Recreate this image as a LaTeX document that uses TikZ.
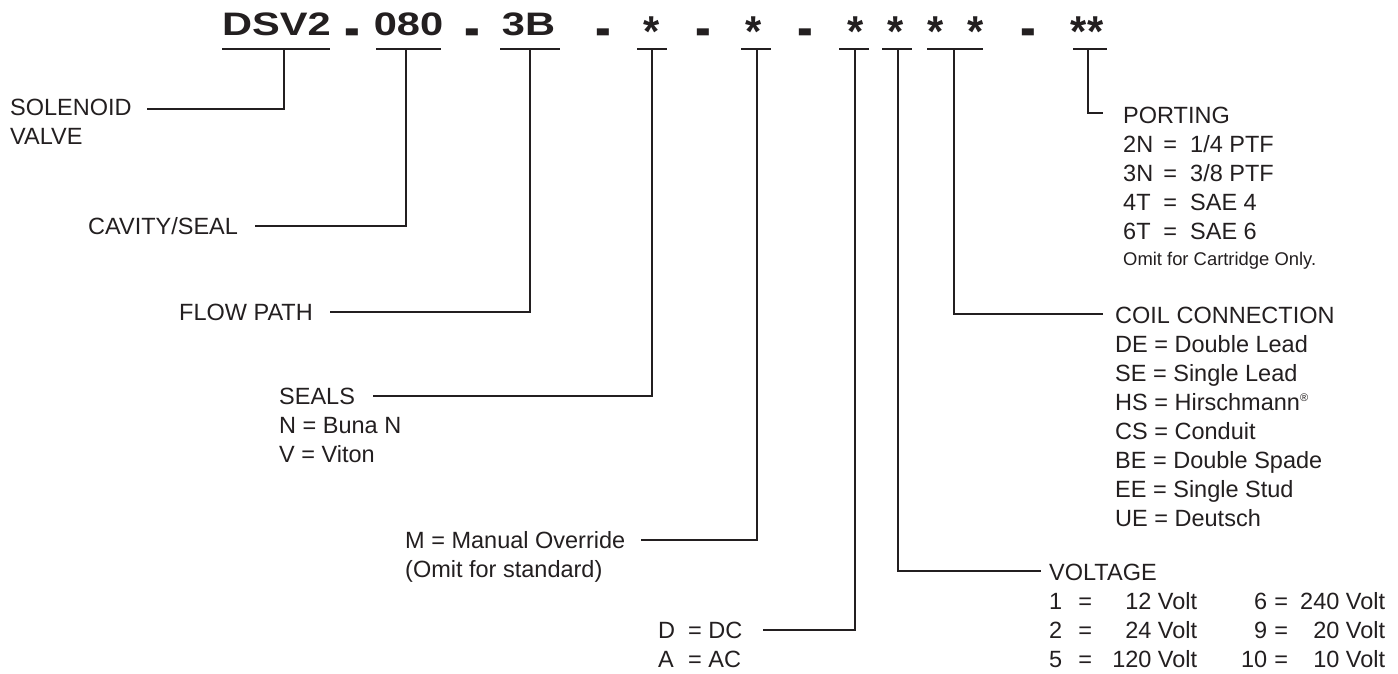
\documentclass[tikz,border=0pt]{standalone}
\usepackage{fontspec}
\setmainfont{Liberation Sans}
\usepackage{graphicx}
\definecolor{ink}{RGB}{35,31,32}
\newcommand\hd[1]{\scalebox{1.28}[1]{#1}}
\newcommand\hs[1]{\scalebox{1.28}[1.33]{#1}}
\newcommand\hm[1]{\scalebox{1.45}[1.8]{#1}}
\newcommand\blk[1]{\begin{tabular}[t]{@{}l@{}}#1\end{tabular}}
\newcommand\prow[2]{\makebox[37pt][l]{#1}\makebox[20pt]{=}\hspace{10pt}#2}
\newcommand\vrow[4]{\makebox[26pt][l]{#1}\makebox[20pt]{=}\makebox[102pt][r]{#2}\makebox[70pt][r]{#3}\makebox[28pt]{=}\makebox[90pt][r]{#4}}
\newcommand\regm{{\fontsize{11}{11}\selectfont\raisebox{9pt}{®}}}
\tikzset{
  lbl/.style={anchor=base west, inner sep=0pt, text=ink, font=\fontsize{23.5}{29}\selectfont},
  small/.style={anchor=base west, inner sep=0pt, text=ink, font=\fontsize{18.4}{24}\selectfont},
  hdr/.style={anchor=base, inner sep=0pt, text=ink, font=\fontsize{32.5}{36}\selectfont\bfseries},
  conn/.style={draw=ink, line width=1.1pt},
  uline/.style={draw=ink, line width=1.5pt},
}
\begin{document}
\begin{tikzpicture}[x=1pt,y=-1pt]
\path[use as bounding box, fill=white] (0,0) rectangle (1398,674);

% header code
\node[hdr] (hA) at (276.5,36) {\hd{DSV2}};
\node[hdr] (d1) at (352,47.2) {\hm{-}};
\node[hdr] (hB) at (408.5,36) {\hd{080}};
\node[hdr] (d2) at (472.5,47.2) {\hm{-}};
\node[hdr] (hC) at (528.5,36) {\hd{3B}};
\node[hdr] (d3) at (603,47.2) {\hm{-}};
\node[hdr] (hD) at (651.5,46.6) {\hs{*}};
\node[hdr] (d4) at (703,47.2) {\hm{-}};
\node[hdr] (hE) at (753.5,46.6) {\hs{*}};
\node[hdr] (d5) at (805.5,47.2) {\hm{-}};
\node[hdr] (hF) at (855.5,46.6) {\hs{*}};
\node[hdr] (hG) at (896,46.6) {\hs{*}};
\node[hdr] (hH1) at (936,46.6) {\hs{*}};
\node[hdr] (hH2) at (976,46.6) {\hs{*}};
\node[hdr] (d6) at (1028,47.2) {\hm{-}};
\node[hdr] (hI) at (1087,46.6) {\hs{**}};

% underlines
\draw[uline] (222,49) -- (330,49);
\draw[uline] (376,49) -- (441,49);
\draw[uline] (500,49) -- (560,49);
\draw[uline] (637,49) -- (667,49);
\draw[uline] (741,49) -- (771,49);
\draw[uline] (839,49) -- (869,49);
\draw[uline] (882,49) -- (912,49);
\draw[uline] (927,49) -- (983,49);
\draw[uline] (1073,49) -- (1107,49);

% labels
\node[lbl] (sol) at (10,116) {\blk{SOLENOID\\VALVE}};
\node[lbl] (cav) at (88,234.5) {CAVITY/SEAL};
\node[lbl] (flow) at (179,320) {FLOW PATH};
\node[lbl] (seals) at (279,404.5) {\blk{SEALS\\N = Buna N\\V = Viton}};
\node[lbl] (man) at (405,548.5) {\blk{M = Manual Override\\(Omit for standard)}};
\node[lbl] (dc) at (658,638.5) {\blk{\makebox[30pt][l]{D}= DC\\\makebox[30pt][l]{A}= AC}};
\node[lbl] (port) at (1123,124) {\blk{PORTING\\\prow{2N}{1/4 PTF}\\\prow{3N}{3/8 PTF}\\\prow{4T}{SAE 4}\\\prow{6T}{SAE 6}}};
\node[small] (omit) at (1123,265) {Omit for Cartridge Only.};
\node[lbl] (coil) at (1115,323) {\blk{COIL CONNECTION\\DE = Double Lead\\SE = Single Lead\\HS = Hirschmann\regm\\CS = Conduit\\BE = Double Spade\\EE = Single Stud\\UE = Deutsch}};
\node[lbl] (volt) at (1049,580.5) {\blk{VOLTAGE\\\vrow{1}{12 Volt}{6}{240 Volt}\\\vrow{2}{24 Volt}{9}{20 Volt}\\\vrow{5}{120 Volt}{10}{10 Volt}}};

% connector ends
\coordinate (s1) at (284,49);   \coordinate (e1) at (147,109);
\coordinate (s2) at (406,49);   \coordinate (e2) at (255,226);
\coordinate (s3) at (530,49);   \coordinate (e3) at (330,312);
\coordinate (s4) at (652,49);   \coordinate (e4) at (373,396);
\coordinate (s5) at (757,49);   \coordinate (e5) at (641,540);
\coordinate (s6) at (855,49);   \coordinate (e6) at (763,630);
\coordinate (s7) at (898,49);   \coordinate (e7) at (1041,571);
\coordinate (s8) at (954,49);   \coordinate (e8) at (1103,314);
\coordinate (s9) at (1088,49);  \coordinate (e9) at (1103,113);

\draw[conn] (s1) |- (e1);
\draw[conn] (s2) |- (e2);
\draw[conn] (s3) |- (e3);
\draw[conn] (s4) |- (e4);
\draw[conn] (s5) |- (e5);
\draw[conn] (s6) |- (e6);
\draw[conn] (s7) |- (e7);
\draw[conn] (s8) |- (e8);
\draw[conn] (s9) |- (e9);
\end{tikzpicture}
\end{document}
